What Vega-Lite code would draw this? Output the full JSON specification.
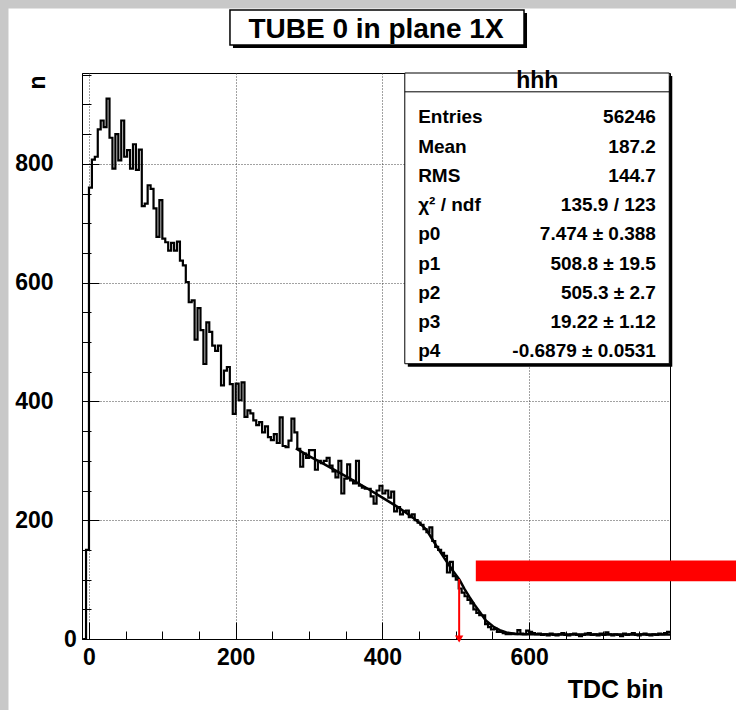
{
"$schema": "https://vega.github.io/schema/vega-lite/v6.json",
"width": 588, "height": 566,
"autosize": {"type": "none"},
"padding": {"left": 82, "top": 73, "right": 66, "bottom": 71},
"background": "white",
"config": {"view": {"stroke": "black", "strokeWidth": 1}, "font": "Liberation Sans"},
"datasets": {
"hist": [
{"x":-8,"n":0},{"x":-4,"n":150},{"x":0,"n":760},{"x":4,"n":807},{"x":8,"n":812},{"x":12,"n":858},{"x":16,"n":873},{"x":20,"n":862},{"x":24,"n":910},{"x":28,"n":844},{"x":32,"n":792},{"x":36,"n":850},{"x":40,"n":806},{"x":44,"n":873},{"x":48,"n":812},{"x":52,"n":823},{"x":56,"n":792},{"x":60,"n":833},{"x":64,"n":790},{"x":68,"n":824},{"x":72,"n":729},{"x":76,"n":733},{"x":80,"n":764},{"x":84,"n":758},{"x":88,"n":725},{"x":92,"n":677},{"x":96,"n":739},{"x":100,"n":674},{"x":104,"n":668},{"x":108,"n":654},{"x":112,"n":667},{"x":116,"n":654},{"x":120,"n":669},{"x":124,"n":637},{"x":128,"n":629},{"x":132,"n":601},{"x":136,"n":567},{"x":140,"n":570},{"x":144,"n":504},{"x":148,"n":557},{"x":152,"n":520},{"x":156,"n":463},{"x":160,"n":533},{"x":164,"n":517},{"x":168,"n":494},{"x":172,"n":485},{"x":176,"n":494},{"x":180,"n":427},{"x":184,"n":452},{"x":188,"n":458},{"x":192,"n":429},{"x":196,"n":379},{"x":200,"n":430},{"x":204,"n":402},{"x":208,"n":432},{"x":212,"n":374},{"x":216,"n":385},{"x":220,"n":380},{"x":224,"n":368},{"x":228,"n":360},{"x":232,"n":365},{"x":236,"n":348},{"x":240,"n":358},{"x":244,"n":340},{"x":248,"n":335},{"x":252,"n":345},{"x":256,"n":330},{"x":260,"n":373},{"x":264,"n":325},{"x":268,"n":323},{"x":272,"n":334},{"x":276,"n":371},{"x":280,"n":348},{"x":284,"n":320},{"x":288,"n":290},{"x":292,"n":312},{"x":296,"n":305},{"x":300,"n":318},{"x":304,"n":318},{"x":308,"n":285},{"x":312,"n":300},{"x":316,"n":296},{"x":320,"n":300},{"x":324,"n":305},{"x":328,"n":292},{"x":332,"n":282},{"x":336,"n":272},{"x":340,"n":300},{"x":344,"n":245},{"x":348,"n":270},{"x":352,"n":294},{"x":356,"n":267},{"x":360,"n":262},{"x":364,"n":300},{"x":368,"n":258},{"x":372,"n":255},{"x":376,"n":253},{"x":380,"n":253},{"x":384,"n":240},{"x":388,"n":228},{"x":392,"n":250},{"x":396,"n":258},{"x":400,"n":245},{"x":404,"n":250},{"x":408,"n":238},{"x":412,"n":248},{"x":416,"n":215},{"x":420,"n":222},{"x":424,"n":210},{"x":428,"n":215},{"x":432,"n":216},{"x":436,"n":205},{"x":440,"n":210},{"x":444,"n":200},{"x":448,"n":196},{"x":452,"n":192},{"x":456,"n":185},{"x":460,"n":180},{"x":464,"n":188},{"x":468,"n":165},{"x":472,"n":155},{"x":476,"n":150},{"x":480,"n":145},{"x":484,"n":140},{"x":488,"n":112},{"x":492,"n":130},{"x":496,"n":106},{"x":500,"n":100},{"x":504,"n":85},{"x":508,"n":78},{"x":512,"n":72},{"x":516,"n":66},{"x":520,"n":60},{"x":524,"n":50},{"x":528,"n":44},{"x":532,"n":40},{"x":536,"n":40},{"x":540,"n":25},{"x":544,"n":20},{"x":548,"n":16},{"x":552,"n":17},{"x":556,"n":12},{"x":560,"n":12},{"x":564,"n":10},{"x":568,"n":8},{"x":572,"n":8},{"x":576,"n":9},{"x":580,"n":8},{"x":584,"n":15},{"x":588,"n":9},{"x":592,"n":8},{"x":596,"n":14},{"x":600,"n":12},{"x":604,"n":10},{"x":608,"n":8},{"x":612,"n":9},{"x":616,"n":7},{"x":620,"n":8},{"x":624,"n":6},{"x":628,"n":9},{"x":632,"n":7},{"x":636,"n":6},{"x":640,"n":8},{"x":644,"n":10},{"x":648,"n":7},{"x":652,"n":6},{"x":656,"n":8},{"x":660,"n":9},{"x":664,"n":7},{"x":668,"n":5},{"x":672,"n":7},{"x":676,"n":9},{"x":680,"n":10},{"x":684,"n":7},{"x":688,"n":8},{"x":692,"n":6},{"x":696,"n":9},{"x":700,"n":7},{"x":704,"n":11},{"x":708,"n":8},{"x":712,"n":6},{"x":716,"n":8},{"x":720,"n":7},{"x":724,"n":5},{"x":728,"n":9},{"x":732,"n":7},{"x":736,"n":8},{"x":740,"n":10},{"x":744,"n":7},{"x":748,"n":6},{"x":752,"n":8},{"x":756,"n":9},{"x":760,"n":7},{"x":764,"n":6},{"x":768,"n":8},{"x":772,"n":7},{"x":776,"n":9},{"x":780,"n":8},{"x":784,"n":10},{"x":788,"n":12},{"x":792,"n":12}
],
"fit": [
{"x":282,"f":321},{"x":300,"f":308},{"x":320,"f":295},{"x":340,"f":281},{"x":360,"f":267},{"x":380,"f":253},{"x":400,"f":238},{"x":420,"f":223},{"x":440,"f":206},{"x":450,"f":196},{"x":460,"f":184},{"x":468,"f":168},{"x":474,"f":156},{"x":485,"f":135},{"x":496,"f":115},{"x":505,"f":100},{"x":512,"f":84},{"x":519,"f":70},{"x":526,"f":57},{"x":533,"f":45},{"x":541,"f":31},{"x":551,"f":21},{"x":560,"f":15},{"x":569,"f":11},{"x":580,"f":9},{"x":590,"f":8.2},{"x":600,"f":7.9},{"x":640,"f":7.5},{"x":700,"f":7.5},{"x":792,"f":7.5}
]
},
"layer": [
{"data": {"values": [{}]},
 "mark": {"type": "rect", "color": "#c8c8c8", "clip": false},
 "encoding": {"x": {"datum": -140, "type": "quantitative", "axis": null}, "x2": {"datum": -109.7},
  "y": {"datum": -150, "type": "quantitative", "axis": null}, "y2": {"datum": 1200}}},
{"data": {"values": [{}]},
 "mark": {"type": "rect", "color": "#c8c8c8", "clip": false},
 "encoding": {"x": {"datum": -140, "type": "quantitative", "axis": null}, "x2": {"datum": 1000},
  "y": {"datum": 1061.6, "type": "quantitative", "axis": null}, "y2": {"datum": 1200}}},
{"data": {"name": "hist"},
 "mark": {"type": "line", "interpolate": "step-after", "color": "black", "strokeWidth": 2.2, "clip": true},
 "encoding": {
  "x": {"field": "x", "type": "quantitative", "scale": {"domain": [-9.5, 792], "nice": false, "zero": false},
   "axis": {"orient": "bottom", "values": [0, 200, 400, 600], "tickSize": -17, "tickColor": "black", "labelPadding": 24,
    "labelFont": "Liberation Sans", "labelFontWeight": "bold", "labelFontSize": 23, "labelColor": "black", "labelFlush": false, "labelOverlap": false,
    "grid": true, "gridDash": [1, 2], "gridColor": "#444", "domainColor": "black",
    "title": "TDC bin", "titleFont": "Liberation Sans", "titleFontWeight": "bold", "titleFontSize": 25, "titleColor": "black",
    "titleX": 581, "titleY": 58, "titleAlign": "right", "titleBaseline": "alphabetic", "titleAngle": 0}},
  "y": {"field": "n", "type": "quantitative", "scale": {"domain": [0, 953], "nice": false, "zero": false},
   "axis": {"orient": "left", "values": [200, 400, 600, 800], "tickSize": -17, "tickColor": "black", "labelPadding": 46,
    "labelFont": "Liberation Sans", "labelFontWeight": "bold", "labelFontSize": 23, "labelColor": "black", "labelFlush": false, "labelOverlap": false,
    "grid": true, "gridDash": [1, 2], "gridColor": "#444", "domainColor": "black",
    "title": "n", "titleFont": "Liberation Sans", "titleFontWeight": "bold", "titleFontSize": 23, "titleColor": "black",
    "titleX": -45, "titleY": 2, "titleAlign": "right", "titleBaseline": "middle", "titleAngle": 270}}
 }},
{"data": {"name": "fit"},
 "mark": {"type": "line", "color": "black", "strokeWidth": 2.5, "clip": true},
 "encoding": {
  "x": {"field": "x", "type": "quantitative",
   "axis": {"orient": "bottom", "values": [0,50,100,150,200,250,300,350,400,450,500,550,600,650,700,750], "tickSize": -8, "tickColor": "black",
    "labels": false, "domain": false, "grid": false, "title": null}},
  "y": {"field": "f", "type": "quantitative",
   "axis": {"orient": "left", "values": [0,50,100,150,200,250,300,350,400,450,500,550,600,650,700,750,800,850,900,950], "tickSize": -9, "tickColor": "black",
    "labelExpr": "datum.value == 0 ? '0' : ''", "labelPadding": 14.6, "labelFont": "Liberation Sans", "labelFontWeight": "bold", "labelFontSize": 23, "labelColor": "black", "labelFlush": false, "labelOverlap": false,
    "domain": false, "grid": false, "title": null}}
 }},
{"data": {"values": [{}]},
 "mark": {"type": "rect", "color": "black", "clip": false},
 "encoding": {"x": {"datum": 434.6, "type": "quantitative", "axis": null}, "x2": {"datum": 795.1},
  "y": {"datum": 458.5, "type": "quantitative", "axis": null}, "y2": {"datum": 948}}},
{"data": {"values": [{}]},
 "mark": {"type": "rect", "fill": "white", "stroke": "black", "strokeWidth": 1, "clip": false},
 "encoding": {"x": {"datum": 430.5, "type": "quantitative", "axis": null}, "x2": {"datum": 791},
  "y": {"datum": 463.5, "type": "quantitative", "axis": null}, "y2": {"datum": 953}}},
{"data": {"values": [{}]},
 "mark": {"type": "rule", "color": "black", "strokeWidth": 1, "clip": false},
 "encoding": {"x": {"datum": 430.5, "type": "quantitative", "axis": null}, "x2": {"datum": 791},
  "y": {"datum": 921.3, "type": "quantitative", "axis": null}}},
{"data": {"values": [{}]},
 "mark": {"type": "text", "text": "hhh", "font": "Liberation Sans", "fontWeight": "bold", "fontSize": 23, "align": "center", "baseline": "alphabetic", "color": "black", "clip": false},
 "encoding": {"x": {"datum": 611, "type": "quantitative", "axis": null}, "y": {"datum": 928, "type": "quantitative", "axis": null}}},
{"data": {"values": [{}]},
 "mark": {"type": "text", "text": ["Entries", "Mean", "RMS", "χ² / ndf", "p0", "p1", "p2", "p3", "p4"], "lineHeight": 29.25, "font": "Liberation Sans", "fontWeight": "bold", "fontSize": 19, "align": "left", "baseline": "alphabetic", "color": "black", "clip": false},
 "encoding": {"x": {"datum": 448.7, "type": "quantitative", "axis": null}, "y": {"datum": 868, "type": "quantitative", "axis": null}}},
{"data": {"values": [{}]},
 "mark": {"type": "text", "text": ["56246", "187.2", "144.7", "135.9 / 123", "7.474 ± 0.388", "508.8 ± 19.5", "505.3 ± 2.7", "19.22 ± 1.12", "-0.6879 ± 0.0531"], "lineHeight": 29.25, "font": "Liberation Sans", "fontWeight": "bold", "fontSize": 19, "align": "right", "baseline": "alphabetic", "color": "black", "clip": false},
 "encoding": {"x": {"datum": 772.8, "type": "quantitative", "axis": null}, "y": {"datum": 868, "type": "quantitative", "axis": null}}},
{"data": {"values": [{}]},
 "mark": {"type": "rect", "color": "black", "clip": false},
 "encoding": {"x": {"datum": 196.3, "type": "quantitative", "axis": null}, "x2": {"datum": 597.1},
  "y": {"datum": 995, "type": "quantitative", "axis": null}, "y2": {"datum": 1054}}},
{"data": {"values": [{}]},
 "mark": {"type": "rect", "fill": "white", "stroke": "black", "strokeWidth": 1.5, "clip": false},
 "encoding": {"x": {"datum": 192.2, "type": "quantitative", "axis": null}, "x2": {"datum": 593},
  "y": {"datum": 1000.1, "type": "quantitative", "axis": null}, "y2": {"datum": 1059.1}}},
{"data": {"values": [{}]},
 "mark": {"type": "text", "text": "TUBE 0 in plane 1X", "font": "Liberation Sans", "fontWeight": "bold", "fontSize": 28, "align": "center", "baseline": "alphabetic", "color": "black", "clip": false},
 "encoding": {"x": {"datum": 391.2, "type": "quantitative", "axis": null}, "y": {"datum": 1012, "type": "quantitative", "axis": null}}},
{"data": {"values": [{}]},
 "mark": {"type": "rule", "color": "#ff0000", "strokeWidth": 2, "clip": false},
 "encoding": {"x": {"datum": 504.6, "type": "quantitative", "axis": null},
  "y": {"datum": 101, "type": "quantitative", "axis": null}, "y2": {"datum": 2}}},
{"data": {"values": [{}]},
 "mark": {"type": "point", "shape": "triangle-down", "filled": true, "color": "#ff0000", "opacity": 1, "size": 70, "clip": false},
 "encoding": {"x": {"datum": 504.6, "type": "quantitative", "axis": null},
  "y": {"datum": 0, "type": "quantitative", "axis": null}}},
{"data": {"values": [{}]},
 "mark": {"type": "rect", "color": "#ff0000", "clip": false},
 "encoding": {"x": {"datum": 527.3, "type": "quantitative", "axis": null}, "x2": {"datum": 950},
  "y": {"datum": 97.1, "type": "quantitative", "axis": null}, "y2": {"datum": 132}}}
],
"resolve": {"axis": {"x": "independent", "y": "independent"}}
}
